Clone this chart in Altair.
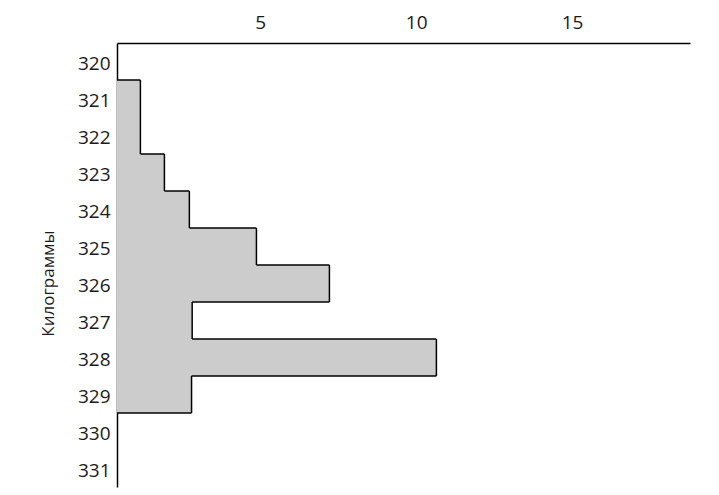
import altair as alt
import pandas as pd

# Weight classes (kg) and how many items fall into each
kilograms = [320, 321, 322, 323, 324, 325, 326, 327, 328, 329, 330, 331]
counts = [0, 1.16, 1.16, 1.93, 2.73, 4.88, 7.22, 2.82, 10.65, 2.80, 0, 0]
x_tick_values = [5, 10, 15]
x_domain = [0.41, 18.78]
y_domain = [319.5, 331.5]

FONT = "Open Sans"
INK = "#1a1a1a"

bars = pd.DataFrame({"kg": kilograms, "count": counts})
bars["lo"] = bars["kg"] - 0.5
bars["hi"] = bars["kg"] + 0.5
bars = bars[bars["count"] > 0]

# Outline of the stepped histogram: right edge of every bar plus the
# horizontal steps between neighbouring classes.
segments = []
for k, c in zip(kilograms, counts):
    if c > 0:
        segments.append({"x": c, "x2": c, "y": k - 0.5, "y2": k + 0.5})
for i in range(len(kilograms) - 1):
    a, b = counts[i], counts[i + 1]
    if a != b:
        edge = kilograms[i] + 0.5
        segments.append({"x": min(a, b), "x2": max(a, b), "y": edge, "y2": edge})
outline = pd.DataFrame(segments)

x_scale = alt.Scale(domain=x_domain, zero=False, nice=False)
y_scale = alt.Scale(domain=y_domain, zero=False, nice=False, reverse=True)

x_axis = alt.Axis(
    orient="top", values=x_tick_values, ticks=False, grid=False,
    domainColor="black", domainWidth=1.5, labelFont=FONT, labelFontSize=19,
    labelColor=INK, labelPadding=11, title=None,
)
y_axis = alt.Axis(
    values=kilograms, format="d", ticks=False, grid=False,
    domainColor="black", domainWidth=1.5, labelFont=FONT, labelFontSize=19,
    labelColor=INK, labelPadding=7, labelOffset=2, title="Килограммы",
    titleFont=FONT, titleFontSize=17, titleFontWeight="normal",
    titleColor=INK, titlePadding=20, titleY=240,
)

fill = alt.Chart(bars).mark_rect(color="#cccccc", clip=True).encode(
    x=alt.X("count:Q", scale=x_scale, axis=x_axis),
    x2=alt.datum(0),
    y=alt.Y("lo:Q", scale=y_scale, axis=y_axis),
    y2="hi:Q",
)

edges = alt.Chart(outline).mark_rule(color="black", strokeWidth=1.5, clip=True).encode(
    x=alt.X("x:Q", scale=x_scale, axis=x_axis),
    x2="x2:Q",
    y=alt.Y("y:Q", scale=y_scale, axis=y_axis),
    y2="y2:Q",
)

chart = (
    alt.layer(fill, edges)
    .properties(
        width=573, height=444,
        autosize=alt.AutoSizeParams(type="none"),
        padding={"left": 117, "top": 43, "right": 29, "bottom": 8},
        background="white",
    )
    .configure_view(stroke=None)
)

chart.save("out.html", embed_options={"renderer": "svg", "actions": False})
